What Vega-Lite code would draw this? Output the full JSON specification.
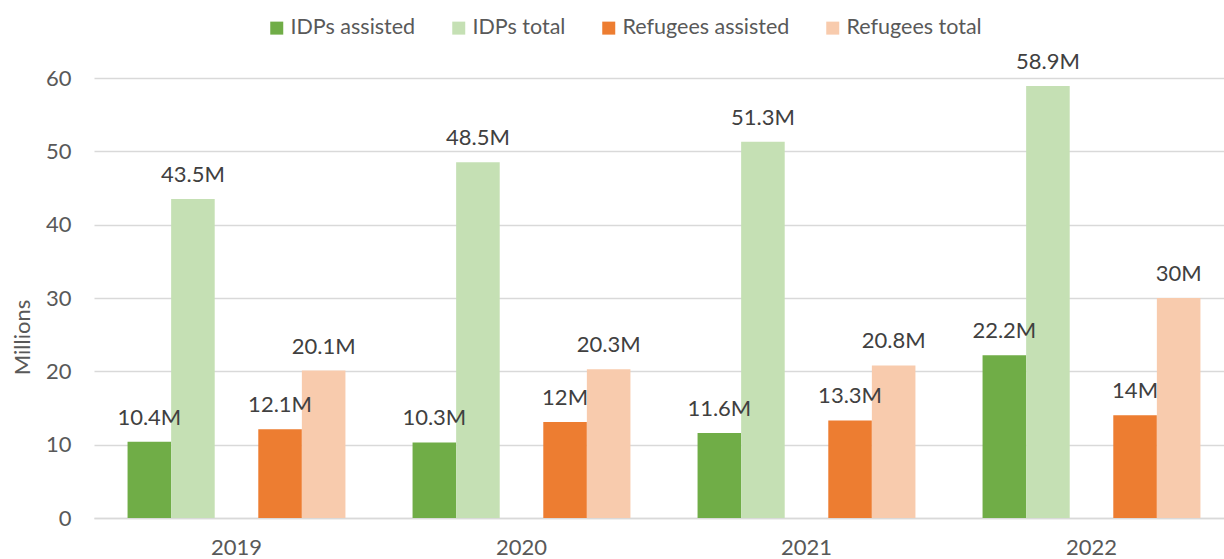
{
  "$schema": "https://vega.github.io/schema/vega-lite/v6.json",
  "width": 1130,
  "height": 440,
  "autosize": "none",
  "padding": {"left": 94, "top": 78, "right": 0, "bottom": 41},
  "background": "white",
  "config": {
    "view": {"stroke": null},
    "font": "Lato",
    "axis": {"labelFont": "Lato", "titleFont": "Lato"},
    "legend": {"labelFont": "Lato"}
  },
  "data": {
    "values": [
      {"year": "2019", "series": "IDPs assisted", "value": 10.4, "label": "10.4M"},
      {"year": "2019", "series": "IDPs total", "value": 43.5, "label": "43.5M"},
      {"year": "2019", "series": "Refugees assisted", "value": 12.1, "label": "12.1M"},
      {"year": "2019", "series": "Refugees total", "value": 20.1, "label": "20.1M"},
      {"year": "2020", "series": "IDPs assisted", "value": 10.3, "label": "10.3M"},
      {"year": "2020", "series": "IDPs total", "value": 48.5, "label": "48.5M"},
      {"year": "2020", "series": "Refugees assisted", "value": 13.1, "label": "12M"},
      {"year": "2020", "series": "Refugees total", "value": 20.3, "label": "20.3M"},
      {"year": "2021", "series": "IDPs assisted", "value": 11.6, "label": "11.6M"},
      {"year": "2021", "series": "IDPs total", "value": 51.3, "label": "51.3M"},
      {"year": "2021", "series": "Refugees assisted", "value": 13.3, "label": "13.3M"},
      {"year": "2021", "series": "Refugees total", "value": 20.8, "label": "20.8M"},
      {"year": "2022", "series": "IDPs assisted", "value": 22.2, "label": "22.2M"},
      {"year": "2022", "series": "IDPs total", "value": 58.9, "label": "58.9M"},
      {"year": "2022", "series": "Refugees assisted", "value": 14.0, "label": "14M"},
      {"year": "2022", "series": "Refugees total", "value": 30.0, "label": "30M"}
    ]
  },
  "encoding": {
    "x": {
      "field": "year",
      "type": "nominal",
      "scale": {"range": [0, 1140], "paddingInner": 0, "paddingOuter": 0},
      "axis": {
        "title": null,
        "labelAngle": 0,
        "labelFontSize": 22,
        "labelColor": "#595959",
        "labelBaseline": "alphabetic",
        "labelPadding": 36,
        "ticks": false,
        "tickSize": 0,
        "domain": true,
        "domainColor": "#D9D9D9",
        "domainWidth": 1.5,
        "grid": false
      }
    },
    "xOffset": {
      "field": "series",
      "type": "nominal",
      "scale": {
        "domain": ["IDPs assisted", "IDPs total", "gap", "Refugees assisted", "Refugees total"],
        "paddingInner": 0,
        "paddingOuter": 0.77
      }
    },
    "y": {
      "field": "value",
      "type": "quantitative",
      "scale": {"domain": [0, 60], "nice": false},
      "axis": {
        "values": [0, 10, 20, 30, 40, 50, 60],
        "title": "Millions",
        "titleFontSize": 22,
        "titleFontWeight": "normal",
        "titleColor": "#595959",
        "titleAngle": -90,
        "titleAlign": "center",
        "titleBaseline": "middle",
        "titleX": -72,
        "titleY": 259,
        "labelFontSize": 22,
        "labelColor": "#595959",
        "labelPadding": 23,
        "ticks": false,
        "tickSize": 0,
        "domain": false,
        "grid": true,
        "gridColor": "#D9D9D9",
        "gridWidth": 1.5
      }
    }
  },
  "layer": [
    {
      "mark": {"type": "bar"},
      "encoding": {
        "color": {
          "field": "series",
          "type": "nominal",
          "scale": {
            "domain": ["IDPs assisted", "IDPs total", "Refugees assisted", "Refugees total"],
            "range": ["#70AD47", "#C5E0B4", "#ED7D31", "#F8CBAD"]
          },
          "legend": {
            "title": null,
            "orient": "none",
            "direction": "horizontal",
            "legendX": 172,
            "legendY": -61,
            "padding": 0,
            "symbolType": "square",
            "symbolSize": 169,
            "symbolStrokeWidth": 0,
            "labelFontSize": 21.5,
            "labelColor": "#595959",
            "labelLimit": 0,
            "labelOffset": 3,
            "columnPadding": 32
          }
        }
      }
    },
    {
      "mark": {"type": "text", "baseline": "alphabetic", "dy": -17, "fontSize": 22, "color": "#404040"},
      "encoding": {"text": {"field": "label"}}
    }
  ]
}
